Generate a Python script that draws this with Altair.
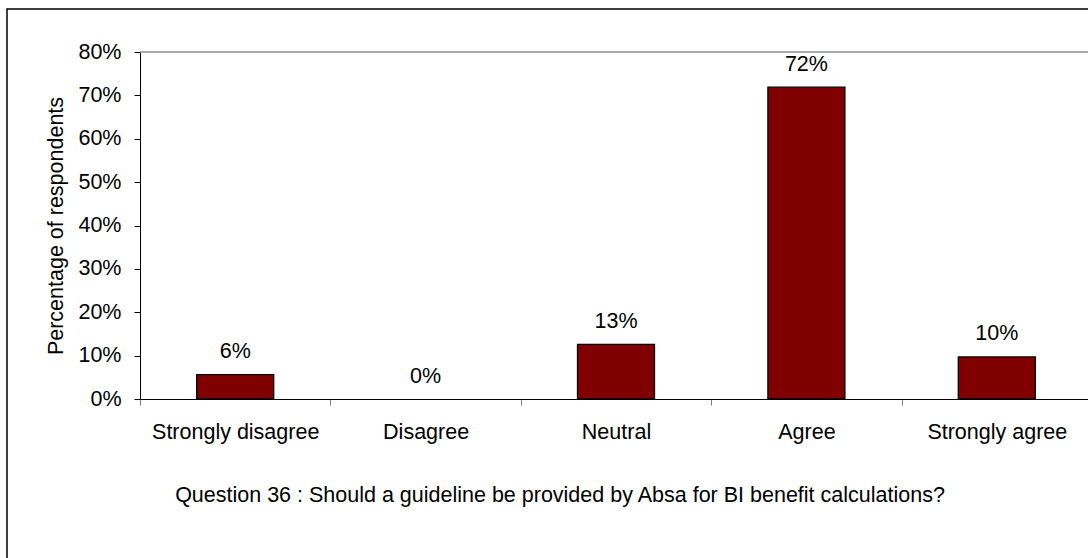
import altair as alt
import pandas as pd

categories = ["Strongly disagree", "Disagree", "Neutral", "Agree", "Strongly agree"]
shares = [0.056, 0.0, 0.126, 0.719, 0.097]
y_ticks = [0.0, 0.1, 0.2, 0.3, 0.4, 0.5, 0.6, 0.7, 0.8]
y_title = "Percentage of respondents"
caption = "Question 36 : Should a guideline be provided by Absa for BI benefit calculations?"

FONT = "Liberation Sans"
FS = 21.5

df = pd.DataFrame({"cat": categories, "val": shares})
one = pd.DataFrame({"k": [0]})

x_enc = alt.X(
    "cat:N",
    sort=categories,
    scale=alt.Scale(range=[0, 952], paddingInner=0, paddingOuter=0),
    axis=alt.Axis(
        title=None, labelAngle=0, tickBand="extent", tickSize=6,
        labelPadding=33, labelBaseline="alphabetic",
        domainColor="black", domainWidth=1, tickColor="#808080", tickWidth=1,
        labelFont=FONT, labelFontSize=FS, labelColor="black",
    ),
)
y_enc = alt.Y(
    "val:Q",
    scale=alt.Scale(domain=[0, 0.8], nice=False),
    axis=alt.Axis(
        values=y_ticks, format=".0%", tickSize=6, labelPadding=13,
        domainColor="black", tickColor="black", grid=False,
        labelFont=FONT, labelFontSize=FS, labelColor="black",
        title=y_title, titleFont=FONT, titleFontSize=FS, titleFontWeight="normal",
        titleColor="black", titleX=-78, titleY=173.5, titleAngle=270,
        titleAlign="center", titleBaseline="alphabetic",
    ),
)

bars = alt.Chart(df).mark_bar(size=77, color="#800000", stroke="black", strokeWidth=1.3).encode(
    x=x_enc,
    y=y_enc,
    strokeOpacity=alt.condition(alt.datum.val > 0, alt.value(1), alt.value(0)),
)
labels = alt.Chart(df).mark_text(
    dy=-16.5, baseline="alphabetic", align="center", font=FONT, fontSize=FS, color="black"
).encode(
    x=alt.X("cat:N", sort=categories),
    y="val:Q",
    text=alt.Text("val:Q", format=".0%"),
)
top_line = alt.Chart(one).mark_rule(color="#8c8c8c", strokeWidth=1.5).encode(
    y=alt.Y(datum=0.8), x=alt.value(0), x2=alt.value(952)
)
frame = alt.Chart(one).mark_rect(fill="transparent", stroke="black", strokeWidth=1.5).encode(
    x=alt.value(-133), x2=alt.value(1100), y=alt.value(-43), y2=alt.value(600)
)
title = alt.Chart(one).mark_text(
    text=caption, align="center", baseline="alphabetic", font=FONT, fontSize=FS, color="black"
).encode(x=alt.value(420), y=alt.value(450))

chart = alt.layer(frame, top_line, bars, labels, title).properties(
    width=948, height=347,
    autosize=alt.AutoSizeParams(type="none"),
    padding={"left": 140, "top": 52, "right": 0, "bottom": 159},
    background="white",
).configure_view(stroke=None)

chart.save("out.html", embed_options={"renderer": "svg", "actions": False})
